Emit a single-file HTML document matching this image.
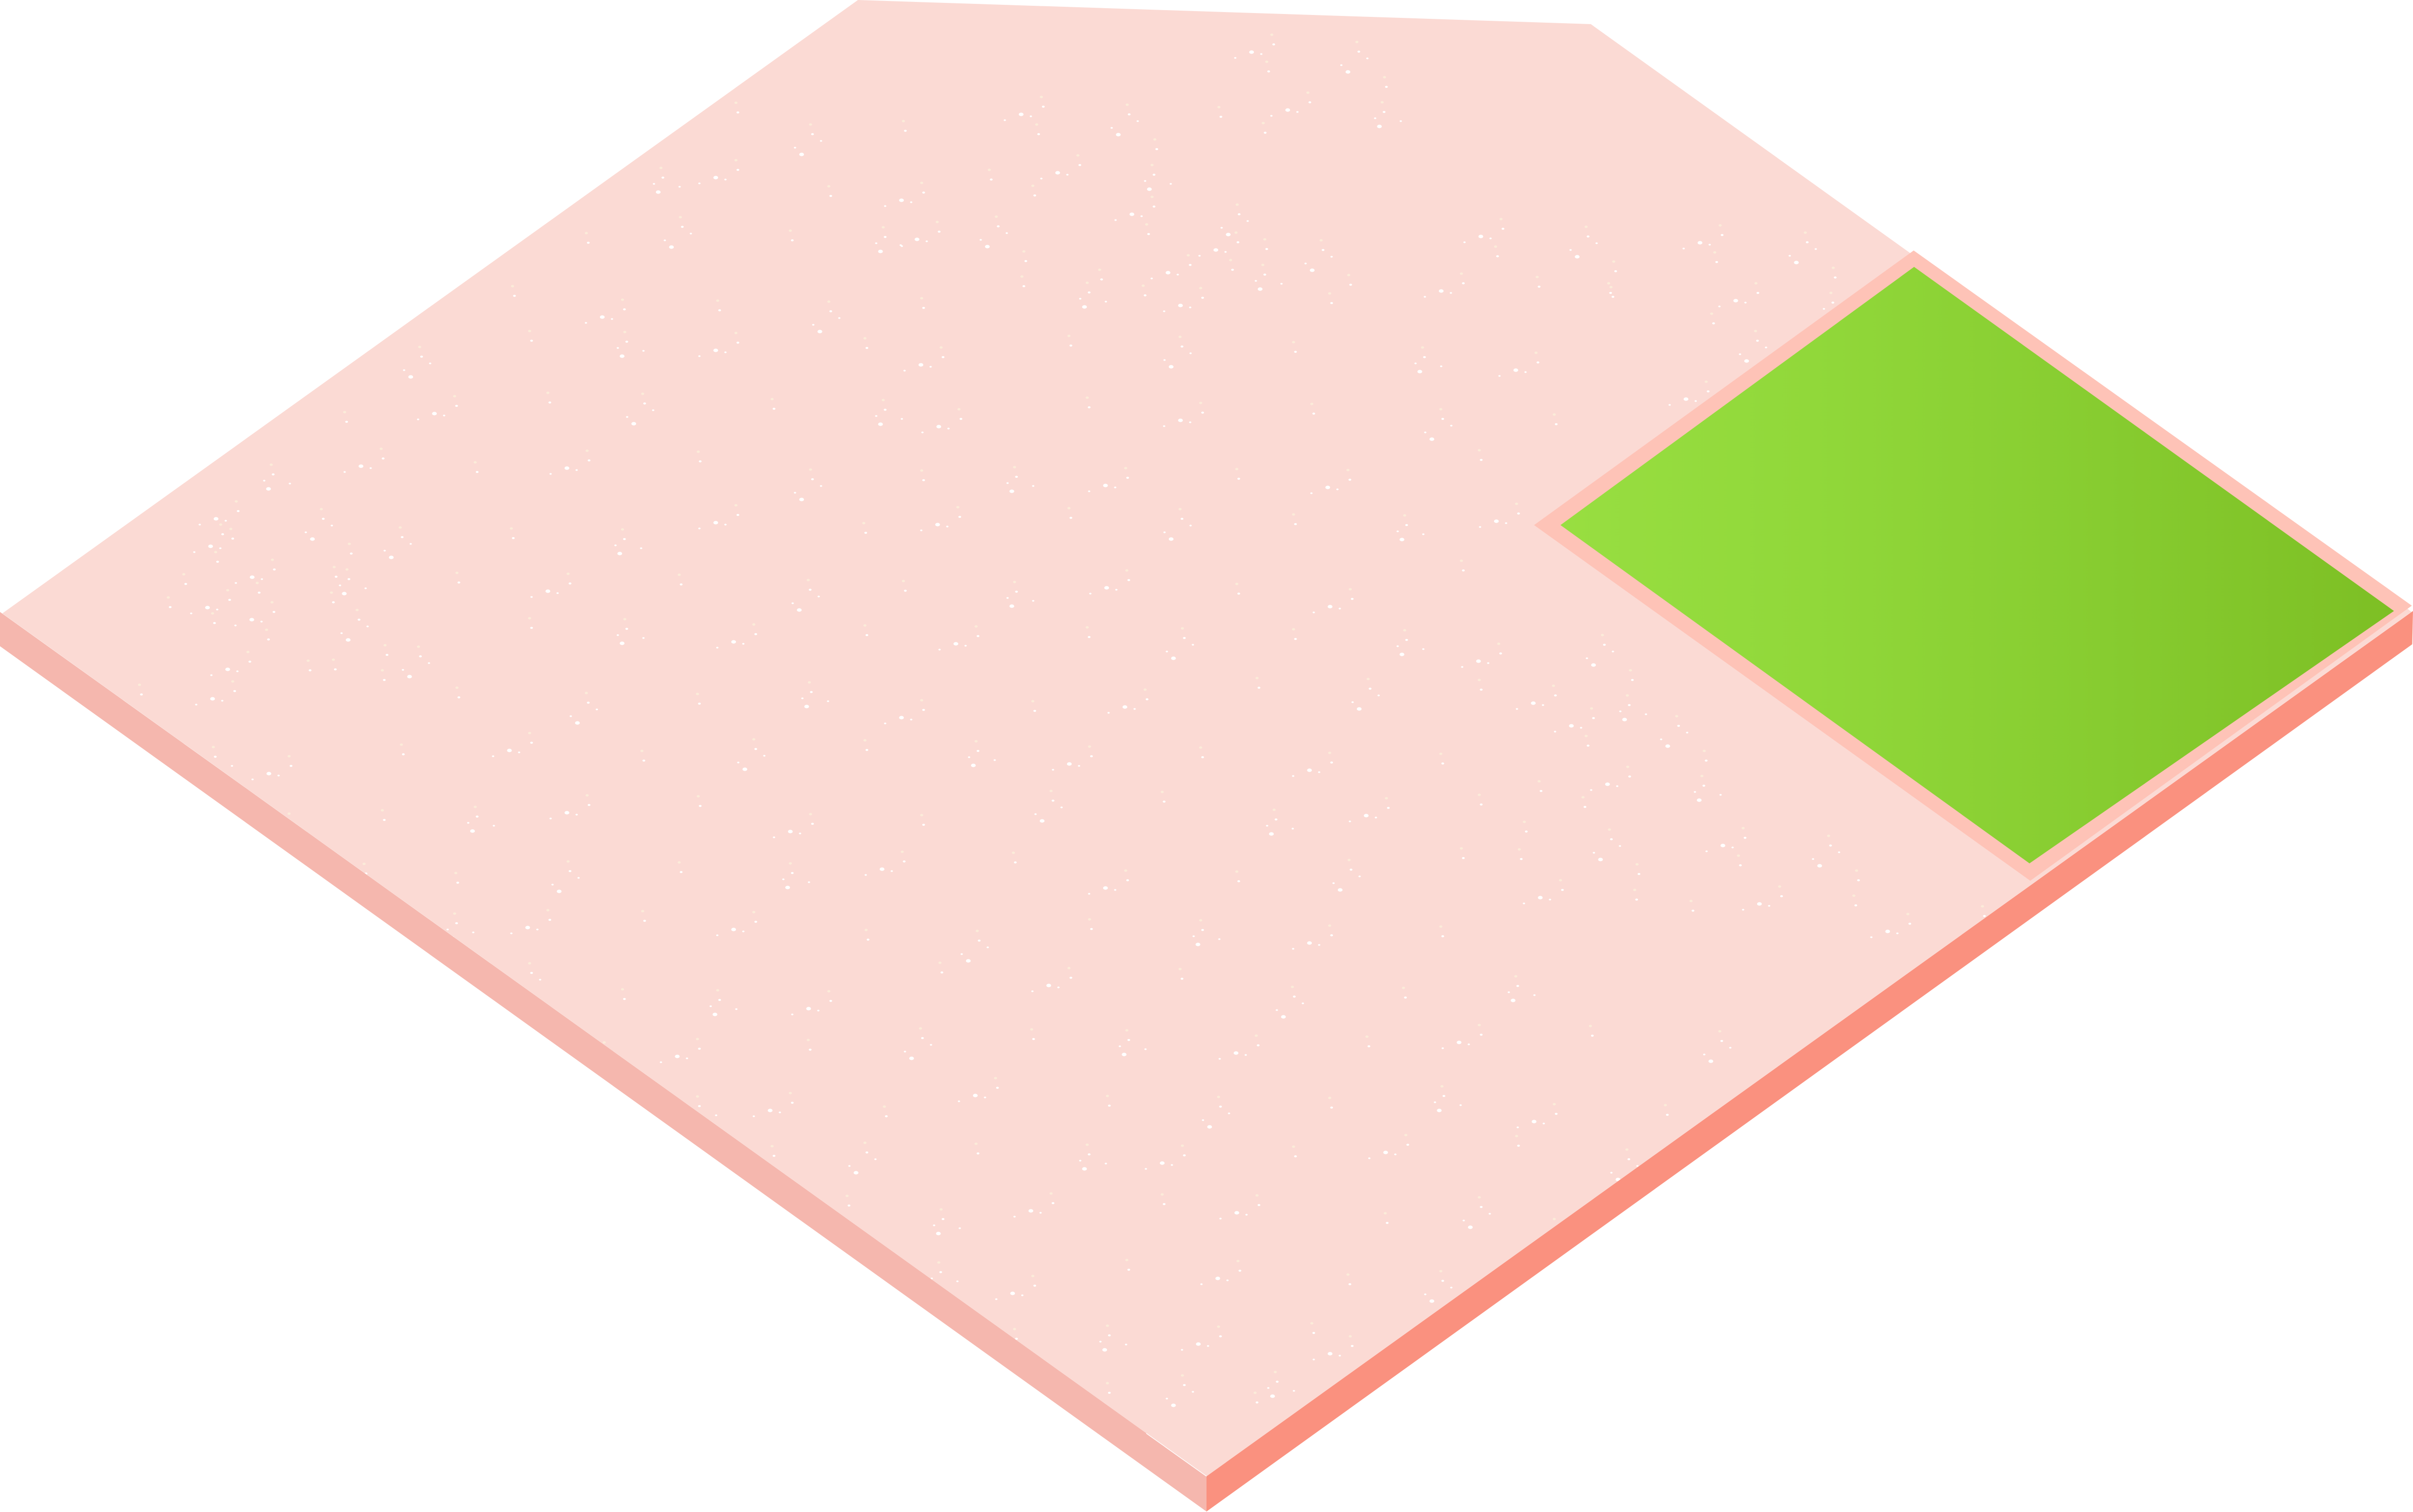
<!DOCTYPE html>
<html lang="en">
<head>
<meta charset="utf-8">
<title>Isometric land plot</title>
<style>
html,body{margin:0;padding:0;background:#fff;width:100%;height:100%;overflow:hidden}
svg{display:block;width:100vw;height:100vh}
</style>
</head>
<body>
<svg id="scene" xmlns="http://www.w3.org/2000/svg" viewBox="0 0 6210 3133" preserveAspectRatio="none">
  <defs>
    <linearGradient id="grassGrad" gradientUnits="userSpaceOnUse" x1="4016" y1="0" x2="6161" y2="0">
      <stop offset="0" stop-color="#98de41"/>
      <stop offset="0.3" stop-color="#91d83a"/>
      <stop offset="0.65" stop-color="#87cc30"/>
      <stop offset="1" stop-color="#7dbf24"/>
    </linearGradient>
    <clipPath id="surfaceClip"><polygon points="6,1271 2208,0 4094,50 4917,525 6197,1262 6206,1268 3105,3059"/></clipPath>
  </defs>
  <polygon fill="#f5b7ae" points="0,1268 3105,3059 3105,3132 0,1339"/>
  <polygon fill="#fa917f" points="3105,3059 6210,1266 6208,1335 3105,3132"/>
  <polygon fill="#fbdad4" points="6,1271 2208,0 4094,50 4917,525 6197,1262 6206,1268 3105,3059"/>
  <line x1="2950" y1="2970" x2="3105" y2="3059" stroke="#ffffff" stroke-width="1.5"/>
  <g id="speckles" clip-path="url(#surfaceClip)"></g>
  <polygon fill="#fec3b7" points="4925,519 6207,1255 5225,1825 3948,1088"/>
  <polygon fill="url(#grassGrad)" points="4926,553 6161,1266 5223,1789 4016,1088"/>
</svg>
<script>
var MOTIFS = {
  A: [['c',0,0],['w',5,20],['s',27,34],['s',-40,48],['b',-23,62]],
  P: [['c',0,0],['w',5,20]],
  C: [['c',0,0],['w',5,20],['b',-52,36],['s',-27,40],['s',-94,48]],
  D: [['c',0,0],['w',5,20],['s',-18,33],['s',48,39],['b',-7,50]]
};
var DOT = {
  c: {rx:4, ry:2.5, fill:'#fbebd9'},
  w: {rx:3.6, ry:2.1, fill:'#ffffff'},
  s: {rx:3, ry:1.7, fill:'#ffffff'},
  b: {rx:6.2, ry:3.6, fill:'#ffffff'}
};
var readClusters = [
  [4124,1316,'A'],[4315,1484,'A'],[4142,1719,'A'],[4706,1732,'A'],[4196,1389,'P'],[4386,1556,'P'],[4082,1525,'P'],
  [3961,1619,'P'],[4074,1652,'P'],[4474,1773,'P'],[4778,1804,'P'],[4213,1791,'P'],[3910,1760,'P'],[3923,1703,'P'],
  [4771,1856,'P'],[4352,1867,'P'],[4207,1844,'P'],[3998,1421,'C'],[4189,1589,'C'],[4486,1716,'C'],[4580,1837,'C'],
  [4016,1824,'C'],[4188,1441,'D'],[4096,1468,'C'],[4380,1608,'D'],
  [2680,201,'C'],[2901,217,'A'],[3137,222,'P'],[3366,192,'C'],[3557,212,'D'],[3273,72,'C'],[3492,87,'A'],[3260,128,'P'],
  [3563,160,'P'],[2668,258,'P'],[2972,289,'P'],[3251,255,'P'],[2774,322,'C'],[2546,352,'P'],[2658,385,'P'],[2965,342,'D'],
  [2965,408,'C'],[2564,449,'A'],[2951,465,'P'],[3184,424,'A'],[3181,482,'C'],[3255,496,'P'],[3400,498,'A'],[2635,521,'P'],
  [3167,539,'P'],[3250,549,'D'],[3058,529,'C'],[2830,559,'P'],[2630,573,'P'],[2942,592,'P'],[3471,570,'P'],[3863,454,'C'],
  [4082,470,'A'],[3849,511,'P'],[4153,542,'P'],[3956,574,'P'],[4146,595,'P'],
  [608,1039,'C'],[827,1055,'A'],[568,1087,'P'],[594,1096,'C'],[555,1144,'P'],[701,1160,'C'],[899,1127,'P'],[473,1190,'P'],
  [860,1175,'P'],[893,1180,'D'],[662,1208,'P'],[586,1223,'C'],[433,1238,'P'],[700,1248,'C'],[547,1271,'P'],[853,1228,'P'],
  [919,1264,'A'],[686,1305,'P'],[638,1351,'C'],[793,1369,'P'],[858,1367,'P'],[991,1337,'P'],[984,1389,'P'],
  [4427,467,'C'],[4646,482,'A'],[4413,523,'P'],[4718,555,'P'],[4519,587,'C'],[4712,607,'D'],[4405,650,'P'],[4518,686,'A'],[4391,791,'C']
];
var estimatedRows = [
  [60,[480,530,590]],
  [90,[430,480,540,600]],
  [120,[380,445,510,570,612]],
  [150,[335,400,470,540,600,700,780,860,950,1040]],
  [180,[275,340,410,480,560,615,690,760,840,920,1000]],
  [210,[225,290,350,420,500,570,625,700,780,850,930,1010]],
  [240,[180,245,310,385,455,530,600,660,730,800,870,960]],
  [270,[260,330,400,480,555,620,690,760,840,910,985]],
  [300,[300,370,440,520,590,660,735,800,880,950]],
  [330,[270,340,410,490,560,630,700,770,840,910,975]],
  [360,[90,150,300,380,450,525,600,670,745,820,890,960]],
  [390,[135,190,265,340,415,490,560,630,710,780,860,930]],
  [420,[190,250,310,385,455,530,600,680,750,825,900,960]],
  [450,[240,295,370,440,510,585,655,730,800,875,950]],
  [480,[290,350,420,490,565,635,710,780,860,930,1240,1290]],
  [510,[340,400,470,540,610,690,760,835,905,980,1250]],
  [540,[390,450,520,595,665,735,815,885,960,1030,1110,1190]],
  [570,[450,510,575,645,720,790,860,935,1010,1080,1140]],
  [600,[500,560,630,700,770,840,915,985,1050]],
  [630,[550,615,680,750,820,895,960,1010]],
  [660,[605,670,735,805,870,930]],
  [690,[660,720,790,850,880]],
  [720,[720,770,810,830]]
];
var motifCycle = ['P','A','P','D','C','P','C'];
var NS = 'http://www.w3.org/2000/svg';
var layer = document.getElementById('speckles');
function drawCluster(x, y, kind) {
  var g = document.createElementNS(NS, 'g');
  
  
  MOTIFS[kind].forEach(function (m) {
    var d = DOT[m[0]];
    var e = document.createElementNS(NS, 'ellipse');
    e.setAttribute('cx', x + m[1]);
    e.setAttribute('cy', y + m[2]);
    e.setAttribute('rx', d.rx);
    e.setAttribute('ry', d.ry);
    e.setAttribute('fill', d.fill);
    g.appendChild(e);
  });
  layer.appendChild(g);
}
readClusters.forEach(function (c) { drawCluster(c[0], c[1], c[2]); });
var n = 0;
estimatedRows.forEach(function (row) {
  row[1].forEach(function (dx) {
    var x = dx * 3.97 + ((dx * 13) % 41) - 20;
    var y = row[0] * 3.97 + ((dx * 7) % 61) - 30;
    drawCluster(Math.round(x), Math.round(y), motifCycle[n % motifCycle.length]);
    n++;
  });
});
</script>
</body>
</html>
